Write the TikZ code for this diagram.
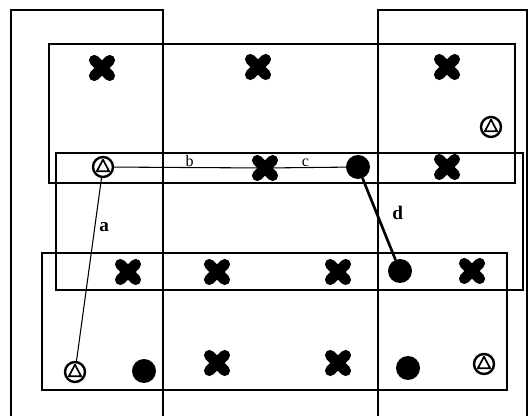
\documentclass[tikz,border=0pt]{standalone}
\usepackage{fontspec}
\setmainfont{Liberation Serif}
\usepackage{tikz}

\begin{document}
\begin{tikzpicture}[
            x=0.75pt, y=-0.75pt,
            line cap=round,
            region/.style={line width=2.2pt},
            link/.style={line width=0.8pt},
            strong link/.style={line width=2pt},
            edge label/.style={font=\Large, inner sep=1pt},
            small label/.style={font=\large, inner sep=0pt},
            cross/.style={
                rectangle, inner sep=0pt, minimum size=22pt,
                path picture={
                    \draw[line width=8pt, line cap=round]
                        (path picture bounding box.center) ++(-5.8pt,-5.8pt) -- ++(11.6pt,11.6pt)
                        (path picture bounding box.center) ++(-5.8pt,5.8pt) -- ++(11.6pt,-11.6pt);
                }
            },
            dot/.style={circle, fill=black, inner sep=0pt, minimum size=18pt},
            tri/.style={
                circle, draw=black, fill=white, line width=1.8pt, inner sep=0pt, minimum size=15pt,
                path picture={
                    \draw[line width=1.3pt, line join=round]
                        ([yshift=5.5pt]path picture bounding box.center)
                        -- ([xshift=-4.6pt,yshift=-3.2pt]path picture bounding box.center)
                        -- ([xshift=4.6pt,yshift=-3.2pt]path picture bounding box.center) -- cycle;
                }
            },
        ]
        \useasboundingbox (0,0) rectangle (529,416);

        \draw[region] (11,420) -- (11,10) -- (163,10) -- (163,420);
        \draw[region] (378,420) -- (378,10) -- (527,10) -- (527,420);
        \draw[region] (49,44) rectangle (515,183);
        \draw[region] (56,153) rectangle (523,290);
        \draw[region] (42,253) rectangle (507,390);

        \node[cross] (x1) at (102,68) {};
        \node[cross] (x2) at (258,67) {};
        \node[cross] (x3) at (447,67) {};
        \node[cross] (x4) at (265,168) {};
        \node[cross] (x5) at (447,167) {};
        \node[cross] (x6) at (128,272) {};
        \node[cross] (x7) at (217,272) {};
        \node[cross] (x8) at (338,272) {};
        \node[cross] (x9) at (472,271) {};
        \node[cross] (x10) at (217,363) {};
        \node[cross] (x11) at (338,363) {};

        \node[dot] (d1) at (358,167) {};
        \node[dot] (d2) at (400,271) {};
        \node[dot] (d3) at (144,371) {};
        \node[dot] (d4) at (408,368) {};

        \node[tri] (t1) at (103,167) {};
        \node[tri] (t2) at (75,372) {};
        \node[tri] (t3) at (491,127) {};
        \node[tri] (t4) at (484,364) {};

        \draw[link] (t1) -- (x4.center)
            node[pos=0.5, above=0.5pt, small label] {b};
        \draw[link] (x4.center) -- (d1)
            node[pos=0.5, above=0.5pt, small label] {c};
        \draw[link] (t1) -- (t2)
            node[pos=0.27, right=2pt, edge label] {\textbf{a}};
        \draw[strong link] (d1) -- (d2)
            node[pos=0.42, right=10pt, edge label] {\textbf{d}};
        \end{tikzpicture}
\end{document}
